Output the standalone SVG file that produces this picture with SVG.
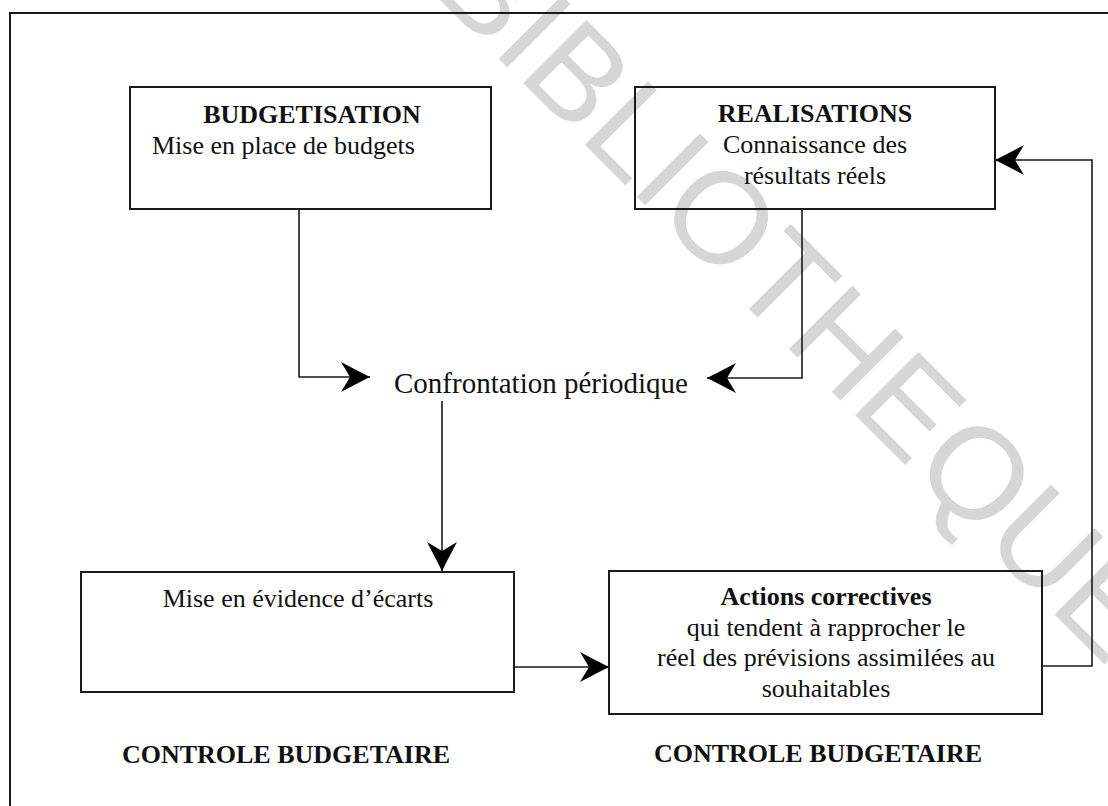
<svg xmlns="http://www.w3.org/2000/svg" width="1108" height="806" viewBox="0 0 1108 806">
<style>
.box{fill:none;stroke:#1a1a1a;stroke-width:2}
.frame{fill:none;stroke:#1a1a1a;stroke-width:2}
.con{fill:none;stroke:#1a1a1a;stroke-width:1.6;marker-end:url(#arr)}
.t{font-family:"Liberation Serif","Times New Roman",serif;font-size:26px;fill:#111}
.b{font-weight:bold}
.m{text-anchor:middle}
.wm{font-family:"Liberation Sans",Arial,sans-serif;font-size:130px;fill:#d6d6d6}
</style>
<defs>
<marker id="arr" markerUnits="userSpaceOnUse" viewBox="-31 -16 32 32" markerWidth="32" markerHeight="32" refX="0" refY="0" orient="auto">
<path d="M0,0 Q-14,-7 -29,-15 L-20,0 L-29,15 Q-14,7 0,0 Z" fill="#000"/>
</marker>
</defs>
<rect width="1108" height="806" fill="#fff"/>
<text class="wm" transform="translate(429,-11) rotate(45)">BIBLIOTHEQUE</text>
<path class="frame" d="M10,806 V13 H1108"/>
<g id="connectors">
<path class="con" d="M299,209 V377 H370"/>
<path class="con" d="M802,209 V378 H707"/>
<path class="con" d="M442,401 V571"/>
<path class="con" d="M514,667 H609"/>
<path class="con" d="M1042,666 H1092 V160 H995"/>
</g>
<g id="budgetisation">
<rect class="box" x="130" y="87" width="361" height="122"/>
<text class="t b m" x="312" y="123">BUDGETISATION</text>
<text class="t" x="152" y="154">Mise en place de budgets</text>
</g>
<g id="realisations">
<rect class="box" x="635" y="87" width="360" height="122"/>
<text class="t b m" x="815" y="122">REALISATIONS</text>
<text class="t m" x="815" y="153">Connaissance des</text>
<text class="t m" x="815" y="184">résultats réels</text>
</g>
<g id="confrontation">
<text class="t" x="394" y="393" style="font-size:29px">Confrontation périodique</text>
</g>
<g id="ecarts">
<rect class="box" x="81" y="572" width="433" height="120"/>
<text class="t m" x="298" y="607">Mise en évidence d’écarts</text>
</g>
<g id="actions">
<rect class="box" x="609" y="571" width="433" height="143"/>
<text class="t b m" x="826" y="605">Actions correctives</text>
<text class="t m" x="826" y="636">qui tendent à rapprocher le</text>
<text class="t m" x="826" y="666">réel des prévisions assimilées au</text>
<text class="t m" x="826" y="697">souhaitables</text>
</g>
<g id="labels">
<text class="t b m" x="286" y="763">CONTROLE BUDGETAIRE</text>
<text class="t b m" x="818" y="762">CONTROLE BUDGETAIRE</text>
</g>
</svg>
